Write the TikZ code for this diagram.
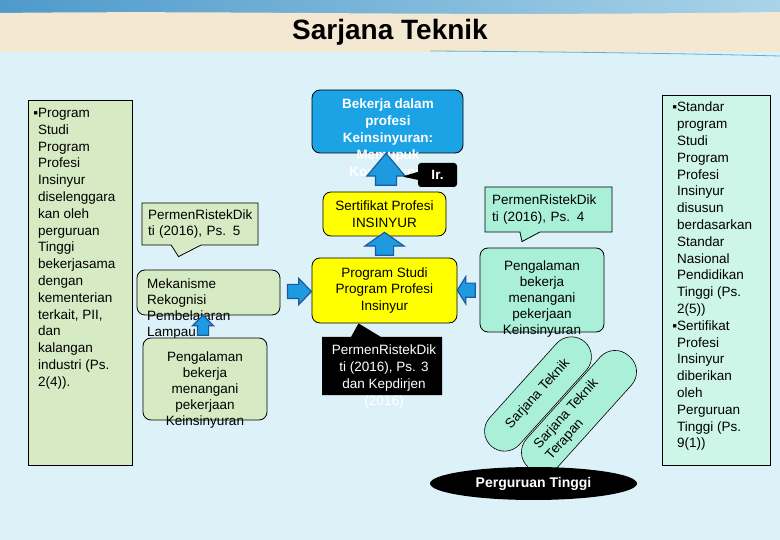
\documentclass[tikz,border=0pt]{standalone}
\usepackage{fontspec}
\setmainfont{Liberation Sans}
\usepackage{xcolor}
\usepackage{tikz}
\usetikzlibrary{arrows.meta, positioning, calc, shapes.geometric, shapes.arrows, shapes.callouts}
\definecolor{kbg}{HTML}{DCF2F8}
\definecolor{kbeige}{HTML}{F4E8D2}
\definecolor{kbanner}{HTML}{4E9ACB}
\definecolor{kline}{HTML}{5FB3C8}
\definecolor{kgreen}{HTML}{D6EBC3}
\definecolor{kmint}{HTML}{CDF5E8}
\definecolor{kaqua}{HTML}{AAF0D9}
\definecolor{kyellow}{HTML}{FFFF00}
\definecolor{kblue}{HTML}{1CA3E6}
\definecolor{karrow}{HTML}{1E9BE0}
\definecolor{kedge}{HTML}{1D5A9E}
\tikzset{
  txt/.style={font=\fontsize{13.5}{16.8}\selectfont, inner sep=0pt},
  btxt/.style={font=\fontsize{13.5}{17}\selectfont\bfseries, inner sep=0pt},
  sidebox/.style={draw=black, line width=0.8pt, inner sep=0pt},
  rbox/.style={draw=black, line width=0.8pt, rounded corners=8pt, inner sep=0pt},
  barrow/.style={single arrow, draw=kedge, fill=karrow, line width=1.2pt, inner xsep=0pt},
  pill/.style={draw=black, line width=0.6pt, fill=kaqua, rounded corners=20pt, minimum height=40, inner sep=0pt, align=left},
}
\begin{document}
\begin{tikzpicture}[x=1pt, y=-1pt]
\useasboundingbox (0,0) rectangle (780,540);
\fill[kbg] (0,0) rectangle (780,540);
\shade[left color=kbanner, right color=kbanner!35!kbg] (0,0) rectangle (780,16);
\fill[kbeige] (0,13) .. controls (250,10) and (420,17) .. (780,12) -- (780,52) -- (0,52) -- cycle;
\draw[kline, line width=0.8pt] (430,51) .. controls (600,52) and (700,54) .. (780,56);
\node[font=\fontsize{28}{32}\selectfont\bfseries] (title) at (390,32) {Sarjana Teknik};
\node[sidebox, fill=kgreen, minimum width=104, minimum height=365] (leftcol) at (80,282.5) {};
\node[txt, anchor=north west, align=left] (lefttxt) at (38,108) {\llap{▪}Program\\Studi\\Program\\Profesi\\Insinyur\\diselenggara\\kan oleh\\perguruan\\Tinggi\\bekerjasama\\dengan\\kementerian\\terkait, PII,\\dan\\kalangan\\industri (Ps.\\2(4)).};
\node[sidebox, fill=kmint, minimum width=108, minimum height=370] (rightcol) at (716,280) {};
\node[txt, anchor=north west, align=left] (righttxt) at (677,102) {\llap{▪}Standar\\program\\Studi\\Program\\Profesi\\Insinyur\\disusun\\berdasarkan\\Standar\\Nasional\\Pendidikan\\Tinggi (Ps.\\2(5))\\\llap{▪}Sertifikat\\Profesi\\Insinyur\\diberikan\\oleh\\Perguruan\\Tinggi (Ps.\\9(1))};
\node[rbox, fill=kblue, minimum width=151, minimum height=63] (kerja) at (387.5,121.5) {};
\node[btxt, text=white, align=center, anchor=north] (kerjatxt) at (388,99) {Bekerja dalam\\profesi\\Keinsinyuran:\\Memupuk\\Kompetensi};
\node[rbox, fill=kyellow, txt, align=center, minimum width=123, minimum height=44] (sert) at (384.5,214) {Sertifikat Profesi\\INSINYUR};
\node[rbox, fill=kyellow, txt, align=center, minimum width=145, minimum height=65] (prog) at (384.5,290.5) {Program Studi\\Program Profesi\\Insinyur};
\node[barrow, rotate=90, inner ysep=10, minimum height=32, minimum width=37, single arrow head extend=8.5, single arrow tip angle=80] (up1) at ($(sert.north)+(1.5,-16)$) {};
\node[rectangle callout, fill=black, rounded corners=3pt, minimum width=39, minimum height=24, callout absolute pointer={($(up1.center)+(16,1)$)}, callout pointer width=8, text=white, btxt] (ir) at (437.5,175) {Ir.};
\node[barrow, rotate=90, inner ysep=8.5, minimum height=23, minimum width=38, single arrow head extend=10.5, single arrow tip angle=110] (up2) at ($(prog.north)!0.5!(sert.south)$) {};
\node[rbox, fill=kgreen, minimum width=143, minimum height=45] (mek) at (208.5,292.5) {};
\node[txt, anchor=north west, align=left, font=\fontsize{13.5}{16}\selectfont] (mektxt) at (147,279) {Mekanisme\\Rekognisi\\Pembelajaran\\Lampau};
\node[rectangle callout, draw=black, line width=0.8pt, fill=kgreen, txt, align=left, text width=104, minimum width=116, minimum height=42, callout absolute pointer={($(mek.north)+(-30,-13)$)}, callout pointer width=30] (ps5) at (200,224) {PermenRistekDik\\ti (2016), Ps. 5};
\node[rbox, fill=kgreen, minimum width=124, minimum height=82] (pengl) at (205,379) {};
\node[txt, align=center, anchor=north, font=\fontsize{13.5}{16}\selectfont] (pengltxt) at (205,352) {Pengalaman\\bekerja\\menangani\\pekerjaan\\Keinsinyuran};
\node[barrow, rotate=90, inner ysep=5, minimum height=20, minimum width=20, single arrow head extend=5, single arrow tip angle=90] (up3) at (203,328) {};
\node[barrow, inner ysep=6.5, minimum height=24, minimum width=25, single arrow head extend=6, single arrow tip angle=92] (rt1) at ($(mek.east)!0.5!(prog.west)$) {};
\node[rbox, fill=kaqua, minimum width=124, minimum height=84] (pengr) at (542,290) {};
\node[txt, align=center, anchor=north, font=\fontsize{13.5}{16}\selectfont] (pengrtxt) at (542,261) {Pengalaman\\bekerja\\menangani\\pekerjaan\\Keinsinyuran};
\node[barrow, rotate=180, inner ysep=6.5, minimum height=18, minimum width=26, single arrow head extend=6.5, single arrow tip angle=116] (lt1) at ($(prog.east)!0.5!(pengr.west)$) {};
\node[rectangle callout, draw=black, line width=0.8pt, fill=kaqua, txt, align=left, text width=113, minimum width=127, minimum height=45, callout absolute pointer={($(pengr.north)+(-20,-6)$)}, callout pointer width=20] (ps4) at (548.5,209.5) {PermenRistekDik\\ti (2016), Ps. 4};
\node[rectangle callout, fill=black, minimum width=120, minimum height=58, callout absolute pointer={($(prog.south)+(-26,0)$)}, callout pointer width=30] (ps3) at (382,366) {};
\node[txt, text=white, align=center, anchor=north, font=\fontsize{13.5}{17}\selectfont] (ps3txt) at (384,345) {PermenRistekDik\\ti (2016), Ps. 3\\dan Kepdirjen\\(2016)};
\node[pill, minimum width=140, rotate=48, txt] (st1) at (538,394) {Sarjana Teknik};
\node[pill, minimum width=150, minimum height=42, rotate=48, txt, font=\fontsize{13.5}{16}\selectfont] (st2) at (579,412) {Sarjana Teknik\hspace*{20pt}\\Terapan};
\node[ellipse, fill=black, minimum width=207, minimum height=33, text=white, font=\fontsize{14}{17}\selectfont\bfseries, inner sep=0pt] (pt) at (533.5,483.5) {Perguruan Tinggi};
\end{tikzpicture}
\end{document}
